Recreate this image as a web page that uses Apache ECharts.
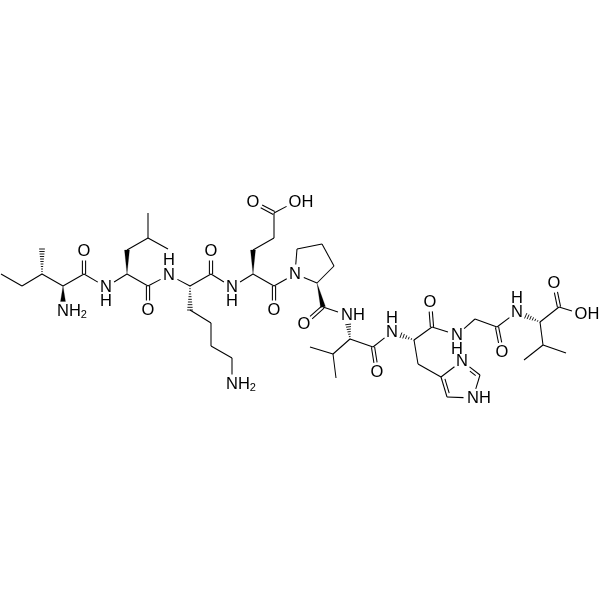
<!DOCTYPE html>
<html><head><meta charset="utf-8">
<style>html,body{margin:0;padding:0;background:#fff}#c{width:600px;height:600px}</style>
<script src="https://cdn.jsdelivr.net/npm/echarts@6/dist/echarts.min.js"></script>
</head><body><div id="c"></div>
<script>
// Atoms: [id, x, y, label]; label empty for skeleton carbons. y is read downward from the picture.
const atoms = [
 ['a1',1,274],['a2',22,286],['a3',42,274],['a4',42,249],['a5',63,286],['n1',63,311,'NH2'],
 ['c1',84,274],['o1',84,251,'O'],['n2',106,287,'N'],['a6',127,274],['a7',127,250],['a8',148,238],
 ['a9',148,213],['a10',168,249],['c2',148,286],['o2',148,310,'O'],['n3',169,275,'N'],['a11',190,286],
 ['a12',190,310],['a13',211,323],['a14',211,346],['a15',232,358],['n4',232,384,'NH2'],
 ['c3',211,274],['o3',211,251,'O'],['n5',232,287,'N'],['a16',253,274],['a17',253,250],['a18',274,238],
 ['c4',274,213],['o4',253,202,'O'],['o5',295,202,'OH'],['c5',274,286],['o6',274,310,'O'],
 ['n6',295,274,'N'],['r1',297,249],['r2',322,244],['r3',334,266],['r4',317,283],['c6',323,307],
 ['o7',304,324,'O'],['n7',347,315,'NH'],['a19',350,339],['c7',373,347],['o8',377,372,'O'],
 ['a20',333,354],['a21',310,347],['a22',336,378],['n8',392,332,'N'],['a23',414,340],['c8',432,327],
 ['o9',430,302,'O'],['n9',457,335,'N'],['a24',475,319],['c9',497,327],['o10',502,352,'O'],
 ['n10',517,312,'N'],['a25',540,322],['c10',559,307],['o11',554,283,'O'],['o12',581,314,'OH'],
 ['a26',543,345],['a27',524,360],['a28',566,353],['a29',418,364],['h1',441,377],['h2',462,361,'N'],
 ['h3',480,375],['h4',473,398,'NH'],['h5',447,397]
];
// Lone H labels above or below their nitrogen: [text, x, y]
const hydrogens = [['H',106,301],['H',169,260],['H',232,301],['H',392,318],['H',457,349],['H',517,298]];
const singleBonds = [
 ['a1','a2'],['a2','a3'],['a3','a5'],['a5','c1'],['c1','n2'],['n2','a6'],['a6','c2'],['a7','a8'],
 ['a8','a9'],['a8','a10'],['c2','n3'],['n3','a11'],['a12','a13'],['a13','a14'],['a14','a15'],['a15','n4'],
 ['a11','c3'],['c3','n5'],['n5','a16'],['a16','c5'],['a17','a18'],['a18','c4'],['c4','o5'],['c5','n6'],
 ['n6','r1'],['r1','r2'],['r2','r3'],['r3','r4'],['r4','n6'],['c6','n7'],['a19','c7'],['a19','a20'],
 ['a20','a21'],['a20','a22'],['c7','n8'],['a23','c8'],['c8','n9'],['n9','a24'],['a24','c9'],['c9','n10'],
 ['a25','c10'],['c10','o12'],['a25','a26'],['a26','a27'],['a26','a28'],['a23','a29'],['a29','h1'],
 ['h1','h2'],['h3','h4'],['h4','h5']
];
const doubleBonds = [['c1','o1'],['c2','o2'],['c3','o3'],['c4','o4'],['c5','o6'],['c6','o7'],['c7','o8'],['c8','o9'],['c9','o10'],['c10','o11']];
const ringDoubleBonds = [['h1','h5',1],['h2','h3',1]];
const wedgeBonds = [['a5','n1'],['a6','a7'],['a16','a17'],['r4','c6']];
const hashBonds = [['a3','a4'],['a11','a12'],['a19','n7'],['a23','n8'],['a25','n10']];

const byId = Object.fromEntries(atoms.map(a => [a[0], a]));
const bondRow = (b, kind) => {
  const p = byId[b[0]], q = byId[b[1]];
  return [p[1], p[2], q[1], q[2], kind, p[3] ? 1 : 0, q[3] ? 1 : 0, b[2] || 0];
};
const bondData = [].concat(
  singleBonds.map(b => bondRow(b, 0)), doubleBonds.map(b => bondRow(b, 1)),
  ringDoubleBonds.map(b => bondRow(b, 2)), wedgeBonds.map(b => bondRow(b, 3)),
  hashBonds.map(b => bondRow(b, 4))
);
const labelData = atoms.filter(a => a[3]).map(a => [a[1], a[2], a[3]]).concat(hydrogens.map(h => [h[1], h[2], h[0]]));

const INK = '#000', LW = 1.05, TRIM = 9.5, FONT = 'Liberation Sans';
function L0(a,b){return Math.hypot(b[0]-a[0],b[1]-a[1]);}
function renderBond(params, api) {
  let p = api.coord([api.value(0), api.value(1)]), q = api.coord([api.value(2), api.value(3)]);
  const kind = api.value(4);
  const L = L0(p,q), ux = (q[0]-p[0])/L, uy = (q[1]-p[1])/L, nx = -uy, ny = ux;
  if (api.value(5)) p = [p[0]+ux*TRIM, p[1]+uy*TRIM];
  if (api.value(6)) q = [q[0]-ux*TRIM, q[1]-uy*TRIM];
  const style = {stroke: INK, lineWidth: LW, fill: null};
  const line = (a, b) => ({type:'line', shape:{x1:a[0],y1:a[1],x2:b[0],y2:b[1]}, style});
  if (kind === 0) return line(p, q);
  if (kind === 1) {
    const d = 1.6;
    return {type:'group', children:[
      line([p[0]+nx*d,p[1]+ny*d],[q[0]+nx*d,q[1]+ny*d]),
      line([p[0]-nx*d,p[1]-ny*d],[q[0]-nx*d,q[1]-ny*d])]};
  }
  if (kind === 2) {
    const d = 3.2;
    // inner line sits toward the ring centre
    const c = api.coord([460, 382]);
    const sign = ((c[0]-p[0])*nx + (c[1]-p[1])*ny) > 0 ? 1 : -1;
    const a = [p[0]+nx*d*sign+ux*3, p[1]+ny*d*sign+uy*3], b = [q[0]+nx*d*sign-ux*3, q[1]+ny*d*sign-uy*3];
    return {type:'group', children:[line(p,q), line(a,b)]};
  }
  const w = 2.5;
  if (kind === 3) {
    return {type:'polygon', shape:{points:[p,[q[0]+nx*w,q[1]+ny*w],[q[0]-nx*w,q[1]-ny*w]]}, style:{fill:INK, stroke:INK, lineWidth:0.2}};
  }
  const n = Math.max(3, Math.round(L0(p,q)/2.6)), kids = [];
  const hstyle = {stroke: INK, lineWidth: 0.9};
  for (let i = 0; i <= n; i++) {
    const t = i/n, cx = p[0]+(q[0]-p[0])*t, cy = p[1]+(q[1]-p[1])*t, hw = 0.4 + t*w;
    kids.push({type:'line', shape:{x1:cx+nx*hw,y1:cy+ny*hw,x2:cx-nx*hw,y2:cy-ny*hw}, style:hstyle});
  }
  return {type:'group', children:kids};
}
function renderLabel(params, api) {
  const c = api.coord([api.value(0), api.value(1)]);
  const t = labelData[params.dataIndex][2];
  const off = t[0] === 'O' ? 6.4 : 6;
  const m = t.match(/^(.*)2$/);
  return {type:'text', x:c[0]-off, y:c[1], style:{
    text: m ? '{a|'+m[1]+'}{b|2}' : '{a|'+t+'}', align:'left', verticalAlign:'middle',
    rich:{a:{fontFamily:FONT,fontSize:16.5,fill:INK}, b:{fontFamily:FONT,fontSize:11,fill:INK,padding:[7,0,0,0]}}
  }};
}
const chart = echarts.init(document.getElementById('c'), null, {renderer:'canvas'});
chart.setOption({
  animation:false, backgroundColor:'#fff',
  grid:{left:0,right:0,top:0,bottom:0},
  xAxis:{type:'value',min:0,max:600,show:false},
  yAxis:{type:'value',min:0,max:600,inverse:true,show:false},
  series:[
    {type:'custom',data:bondData,renderItem:renderBond,clip:false,silent:true,encode:{x:[0,2],y:[1,3]}},
    {type:'custom',data:labelData.map(r=>r.slice(0,2)),renderItem:renderLabel,clip:false,silent:true,encode:{x:0,y:1}}
  ]
});
</script></body></html>
